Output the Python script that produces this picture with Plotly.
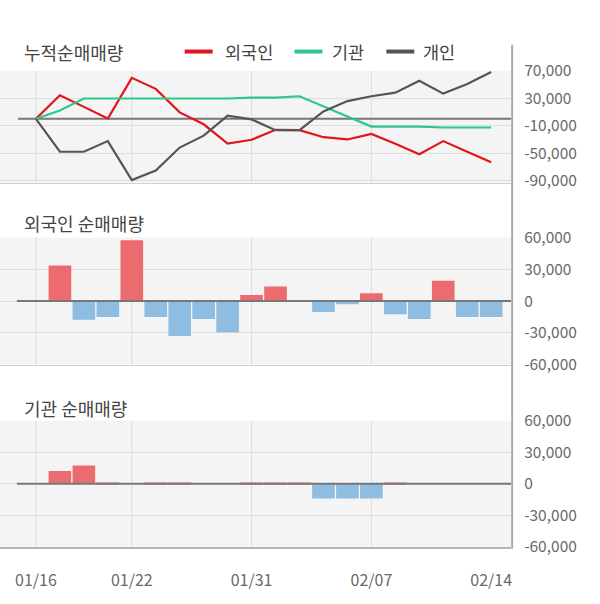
import plotly.graph_objects as go

W, H = 600, 604

dates = ["01/16", "01/17", "01/20", "01/21", "01/22", "01/23", "01/28", "01/29", "01/30", "01/31",
         "02/03", "02/04", "02/05", "02/06", "02/07", "02/10", "02/11", "02/12", "02/13", "02/14"]

# cumulative net buying (top panel)
cum_foreign = [0, 34300, 17400, 500, 59700, 43700, 9400, -8000, -36200, -30600,
               -16000, -16500, -26800, -30100, -22100, -36200, -51800, -32500, -48000, -63500]
cum_inst = [0, 12200, 29650, 29650, 29650, 29650, 29650, 29650, 29650, 31000,
            31000, 32900, 17900, 2800, -11300, -11300, -11300, -12700, -12700, -12700]
cum_indiv = [0, -48000, -48000, -32500, -89400, -75300, -41900, -24500, 4700, -900,
             -16500, -16500, 10800, 25900, 32900, 38100, 55500, 36700, 50800, 68200]

# daily net buying
foreign_daily = [0, 33600, -17700, -15000, 57300, -15000, -33000, -16800, -29400, 5700,
                 13800, 0, -10200, -3000, 7500, -12300, -16800, 19200, -15000, -15000]
inst_daily = [0, 12000, 17400, 1200, 0, 1200, 1200, 0, 0, 1200,
              1200, 1200, -14100, -14100, -14100, 1200, 0, 0, 0, 0]

grid_dates = ["01/16", "01/22", "01/31", "02/07"]
label_dates = ["01/16", "01/22", "01/31", "02/07", "02/14"]

top_ticks = [70000, 30000, -10000, -50000, -90000]
top_text = ["70,000", "30,000", "-10,000", "-50,000", "-90,000"]
bar_ticks = [60000, 30000, 0, -30000, -60000]
bar_text = ["60,000", "30,000", "0", "-30,000", "-60,000"]

RED, GREEN, GREY = "#e2141c", "#2bc88c", "#555555"
POS, NEG = "#ec6b6f", "#8fbde1"
FONT = "Noto Sans CJK KR"
TICKCOL = "#6a6a6a"

def py(px):
    return 1 - px / H

XR = 512 / W

fig = go.Figure()
fig.add_trace(go.Scatter(x=dates, y=cum_foreign, mode="lines", line=dict(color=RED, width=2.2),
                         xaxis="x", yaxis="y", name="외국인"))
fig.add_trace(go.Scatter(x=dates, y=cum_inst, mode="lines", line=dict(color=GREEN, width=2.2),
                         xaxis="x", yaxis="y", name="기관"))
fig.add_trace(go.Scatter(x=dates, y=cum_indiv, mode="lines", line=dict(color=GREY, width=2.2),
                         xaxis="x", yaxis="y", name="개인"))
fig.add_trace(go.Bar(x=dates, y=foreign_daily, xaxis="x2", yaxis="y2",
                     marker=dict(color=[POS if v >= 0 else NEG for v in foreign_daily], line=dict(width=0))))
fig.add_trace(go.Bar(x=dates, y=inst_daily, xaxis="x3", yaxis="y3",
                     marker=dict(color=[POS if v >= 0 else NEG for v in inst_daily], line=dict(width=0))))

xcommon = dict(domain=[0, XR], type="category", range=[-1.5, 19.833], showgrid=False,
               zeroline=False, ticks="", fixedrange=True)
ycommon = dict(side="right", showgrid=True, gridcolor="#dddddd", gridwidth=1, zeroline=False,
               ticks="", tickfont=dict(family=FONT, size=15.5, color=TICKCOL), ticklabelstandoff=12,
               tickmode="array")

fig.update_layout(
    width=W, height=H, margin=dict(l=0, r=0, t=0, b=0),
    paper_bgcolor="white", plot_bgcolor="#f4f4f4",
    showlegend=False, bargap=0.055,
    font=dict(family=FONT, color="#444444"),
    xaxis=dict(**xcommon, anchor="y", showticklabels=False, showline=True, linecolor="#d0d0d0", linewidth=1),
    xaxis2=dict(**xcommon, anchor="y2", showticklabels=False, showline=True, linecolor="#d0d0d0", linewidth=1),
    xaxis3=dict(**xcommon, anchor="y3", showticklabels=True, tickmode="array", tickvals=label_dates,
                ticktext=label_dates, tickfont=dict(family=FONT, size=16, color=TICKCOL),
                ticklabelstandoff=18, showline=True, linecolor="#b4b4b4", linewidth=2),
    yaxis=dict(**ycommon, anchor="x", domain=[py(176), py(60)], range=[-93000, 70000],
               tickvals=top_ticks, ticktext=top_text),
    yaxis2=dict(**ycommon, anchor="x2", domain=[py(365), py(233)], range=[-60000, 60000],
                tickvals=bar_ticks, ticktext=bar_text),
    yaxis3=dict(**ycommon, anchor="x3", domain=[py(554), py(423)], range=[-60000, 60000],
                tickvals=bar_ticks, ticktext=bar_text),
)

shapes = []
for xa, ya in (("x", "y"), ("x2", "y2"), ("x3", "y3")):
    for d in grid_dates:
        shapes.append(dict(type="line", xref=xa, yref=f"{ya} domain", x0=d, x1=d, y0=0, y1=1,
                           line=dict(color="#dcdcdc", width=1), layer="below"))
# zero lines
shapes.append(dict(type="line", xref="paper", yref="y", x0=18 / W, x1=XR, y0=0, y1=0,
                   line=dict(color="#777777", width=2), layer="below"))
for ya in ("y2", "y3"):
    shapes.append(dict(type="line", xref="paper", yref=ya, x0=17 / W, x1=XR, y0=0, y1=0,
                       line=dict(color="#777777", width=2), layer="above"))
# right border
shapes.append(dict(type="line", xref="paper", yref="paper", x0=513 / W, x1=513 / W,
                   y0=py(556), y1=py(33), line=dict(color="#aaaaaa", width=2), layer="above"))
# legend symbols
for (x0, x1), col in (((185, 213), RED), ((295, 323), GREEN), ((387, 415), GREY)):
    shapes.append(dict(type="line", xref="paper", yref="paper", x0=x0 / W, x1=x1 / W,
                       y0=py(40), y1=py(40), line=dict(color=col, width=4)))
fig.update_layout(shapes=shapes)

annotations = []
for text, y in (("누적순매매량", 40), ("외국인 순매매량", 218), ("기관 순매매량", 410)):
    annotations.append(dict(text=text, xref="paper", yref="paper", x=22 / W, y=py(y),
                            xanchor="left", yanchor="middle", showarrow=False,
                            font=dict(family=FONT, size=18, color="#444444")))
for text, x in (("외국인", 223), ("기관", 331), ("개인", 422)):
    annotations.append(dict(text=text, xref="paper", yref="paper", x=x / W, y=py(40),
                            xanchor="left", yanchor="middle", showarrow=False,
                            font=dict(family=FONT, size=17.5, color="#444444")))
fig.update_layout(annotations=annotations)

fig.write_html("out.html")
